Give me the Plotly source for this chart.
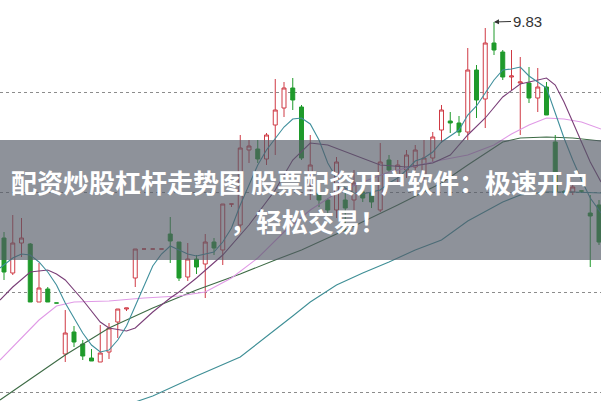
import plotly.graph_objects as go

# ---------------- data ----------------
idx = list(range(69))
open_ = [8.75, 8.575, 8.725, 8.72, 8.43, 8.495, 8.425, 8.17, 8.28, 8.22,
         8.15, 8.13, 8.18, 8.33, 8.395, 8.55, 8.695, 8.695, 8.695, 8.77,
         8.73, 8.555, 8.645, 8.62, 8.73, 8.69, 8.92, 8.815, 9.19, 9.195,
         9.145, 9.315, 9.40, 9.50, 9.405, 9.065, 8.975, 8.94, 8.89, 8.94,
         8.94, 8.98, 8.975, 8.89, 9.14, 9.065, 9.09, 9.105, 9.065, 9.15,
         9.29, 9.335, 9.325, 9.28, 9.59, 9.445, 9.725, 9.68, 9.555, 9.525,
         9.525, 9.45, 9.505, 9.23, 8.98, 8.98, 8.985, 8.875, 8.915]
high = [8.78, 8.865, 8.85, 8.725, 8.625, 8.505, 8.425, 8.39, 8.31, 8.24,
        8.195, 8.315, 8.325, 8.395, 8.40, 8.695, 8.695, 8.695, 8.695, 8.855,
        8.73, 8.725, 8.665, 8.77, 8.75, 8.92, 8.92, 9.265, 9.24, 9.24,
        9.275, 9.545, 9.53, 9.55, 9.415, 9.265, 9.015, 8.95, 9.155, 9.00,
        9.09, 9.025, 9.015, 9.225, 9.165, 9.14, 9.19, 9.215, 9.24, 9.28,
        9.415, 9.38, 9.36, 9.70, 9.615, 9.80, 9.83, 9.69, 9.69, 9.655,
        9.605, 9.60, 9.53, 9.265, 8.99, 9.025, 8.985, 8.965, 8.94]
low = [8.54, 8.565, 8.655, 8.43, 8.43, 8.43, 8.425, 8.13, 8.205, 8.14,
       8.135, 8.13, 8.145, 8.25, 8.385, 8.505, 8.695, 8.695, 8.695, 8.625,
       8.535, 8.535, 8.57, 8.45, 8.665, 8.615, 8.905, 8.78, 9.125, 9.125,
       9.115, 9.165, 9.355, 9.39, 9.14, 8.94, 8.905, 8.865, 8.85, 8.775,
       8.89, 8.93, 8.90, 8.88, 9.08, 9.015, 9.05, 9.09, 9.025, 9.13,
       9.225, 9.275, 9.26, 9.24, 9.35, 9.30, 9.665, 9.54, 9.49, 9.265,
       9.425, 9.38, 9.365, 8.98, 8.97, 8.965, 8.975, 8.605, 8.715]
close = [8.58, 8.725, 8.75, 8.43, 8.50, 8.43, 8.425, 8.275, 8.23, 8.16,
         8.135, 8.175, 8.30, 8.395, 8.40, 8.695, 8.695, 8.695, 8.695, 8.735,
         8.55, 8.645, 8.605, 8.73, 8.70, 8.92, 8.92, 9.20, 9.21, 9.145,
         9.265, 9.39, 9.50, 9.44, 9.15, 9.115, 8.94, 8.89, 9.13, 8.90,
         9.025, 8.95, 8.93, 9.13, 9.09, 9.115, 9.165, 9.19, 9.15, 9.255,
         9.39, 9.325, 9.28, 9.59, 9.44, 9.725, 9.69, 9.555, 9.56, 9.53,
         9.45, 9.505, 9.365, 8.98, 8.98, 9.005, 8.985, 8.86, 8.73]

# moving averages (x = candle index)
ma5_x = [-0.46, 1, 2, 3, 4, 5, 6, 7, 8, 9, 10, 11, 12, 13, 14, 15, 16, 17, 18, 19,
         20, 21, 22, 23, 24, 25, 26, 27, 28, 29, 30, 31, 32, 33, 34, 35, 36, 37, 38, 39,
         40, 41, 42, 43, 44, 45, 46, 47, 48, 49, 50, 51, 52, 53, 54, 55, 56, 57, 58, 59,
         60, 61, 62, 63, 64, 65, 66, 67, 68, 68.23]
ma5_y = [8.60, 8.65, 8.67, 8.665, 8.63, 8.58, 8.515, 8.425, 8.35, 8.275,
         8.215, 8.18, 8.19, 8.24, 8.31, 8.41, 8.515, 8.61, 8.67, 8.71,
         8.69, 8.67, 8.66, 8.67, 8.68, 8.73, 8.80, 8.915, 9.015, 9.115,
         9.19, 9.25, 9.305, 9.345, 9.35, 9.32, 9.24, 9.125, 9.05, 9.00,
         8.975, 8.97, 8.98, 8.99, 9.025, 9.05, 9.09, 9.135, 9.15, 9.18,
         9.23, 9.26, 9.29, 9.365, 9.41, 9.475, 9.54, 9.59, 9.595, 9.605,
         9.56, 9.53, 9.50, 9.375, 9.25, 9.14, 9.04, 8.95, 8.89, 8.875]

ma10_x = [-0.46, 1, 3, 5, 6, 7, 9, 11, 12, 14, 15, 17, 19, 20, 22, 25, 28, 31, 33, 35,
          37, 40, 43, 46, 49, 51, 53, 55, 57, 59, 61, 62, 63, 64, 65, 66, 67, 68.23]
ma10_y = [8.44, 8.505, 8.58, 8.59, 8.57, 8.54, 8.44, 8.33, 8.30, 8.285,
          8.30, 8.38, 8.45, 8.48, 8.55, 8.665, 8.815, 8.99, 9.14, 9.225,
          9.215, 9.165, 9.115, 9.105, 9.125, 9.165, 9.265, 9.35, 9.455, 9.52,
          9.54, 9.55, 9.515, 9.43, 9.33, 9.23, 9.13, 9.03]

ma20_x = [-0.46, 2, 4, 6, 8, 12, 16, 20, 23, 26, 29, 32, 35, 38, 41, 44, 47, 50, 53, 56,
          58, 60, 62, 64, 66, 68.23]
ma20_y = [8.14, 8.25, 8.34, 8.41, 8.43, 8.435, 8.45, 8.46, 8.48, 8.55,
          8.65, 8.78, 8.89, 8.975, 9.03, 9.08, 9.11, 9.14, 9.165, 9.215,
          9.27, 9.315, 9.35, 9.345, 9.33, 9.295]

ma60_x = [-0.46, 7, 12, 17, 22, 27, 31, 34, 40, 45, 50, 53, 57, 59, 62, 65, 68.23]
ma60_y = [7.94, 8.165, 8.30, 8.40, 8.49, 8.57, 8.64, 8.69, 8.81, 8.915,
          9.025, 9.115, 9.23, 9.25, 9.255, 9.25, 9.235]

ma120_x = [14, 17, 22, 27, 33, 35, 38, 41, 44, 47, 50, 53, 57, 59, 62, 65, 68.23]
ma120_y = [7.915, 7.96, 8.06, 8.155, 8.36, 8.43, 8.515, 8.575, 8.63, 8.69,
           8.74, 8.835, 8.93, 8.965, 8.98, 8.98, 8.975]

grid_vals = [7.98, 8.48, 8.98, 9.48]
peak_index = 56
peak_label = "9.83"
title_line1 = "配资炒股杠杆走势图 股票配资开户软件：极速开户"
title_line2 = "，轻松交易！"

# ---------------- figure ----------------
W, H = 601, 401
fig = go.Figure()

fig.add_trace(go.Candlestick(
    x=idx, open=open_, high=high, low=low, close=close,
    increasing=dict(line=dict(color="#cf3a44", width=1), fillcolor="rgba(255,255,255,1)"),
    decreasing=dict(line=dict(color="#1f9a2b", width=1), fillcolor="#1f9a2b"),
    whiskerwidth=0, hoverinfo="skip", showlegend=False,
))

def add_line(xs, ys, color):
    fig.add_trace(go.Scatter(x=xs, y=ys, mode="lines",
                             line=dict(color=color, width=1.1),
                             hoverinfo="skip", showlegend=False))

add_line(ma120_x, ma120_y, "#3f8f96")
add_line(ma60_x, ma60_y, "#3d6b45")
add_line(ma20_x, ma20_y, "#e09ae6")
add_line(ma10_x, ma10_y, "#7a3f78")
add_line(ma5_x, ma5_y, "#3f8f9c")

# translucent banner
fig.add_shape(type="rect", xref="paper", yref="paper",
              x0=0, x1=1, y0=1 - 260 / H, y1=1 - 140 / H,
              fillcolor="rgba(83,90,101,0.66)", line=dict(width=0), layer="above")

fig.add_annotation(x=peak_index, y=high[peak_index], text=peak_label,
                   showarrow=True, ax=33, ay=-1, arrowhead=2, arrowsize=1,
                   arrowwidth=1, arrowcolor="#333333", standoff=0,
                   font=dict(family="Liberation Sans, Arial", size=15, color="#333333"))

fig.add_annotation(x=300 / W, y=1 - 182 / H, xref="paper", yref="paper",
                   text=title_line1, showarrow=False, xanchor="center", yanchor="middle",
                   font=dict(family="Noto Sans CJK SC", size=26, color="white", weight="bold"))
fig.add_annotation(x=308 / W, y=1 - 220 / H, xref="paper", yref="paper",
                   text=title_line2, showarrow=False, xanchor="center", yanchor="middle",
                   font=dict(family="Noto Sans CJK SC", size=26, color="white", weight="bold"))

fig.update_layout(
    width=W, height=H, margin=dict(l=0, r=0, t=0, b=0),
    paper_bgcolor="white", plot_bgcolor="white", showlegend=False,
    boxgap=0.35,
    xaxis=dict(range=[-0.457, 68.229], showgrid=False, zeroline=False,
               showticklabels=False, rangeslider=dict(visible=False), fixedrange=True),
    yaxis=dict(range=[7.935, 9.94], tickvals=grid_vals, showgrid=True,
               gridcolor="#8c8c8c", gridwidth=1, griddash="dot",
               zeroline=False, showticklabels=False, fixedrange=True),
)

fig.write_html("out.html", config={"displayModeBar": False},
               post_script="document.body.style.margin='0';document.body.style.overflow='hidden';")
